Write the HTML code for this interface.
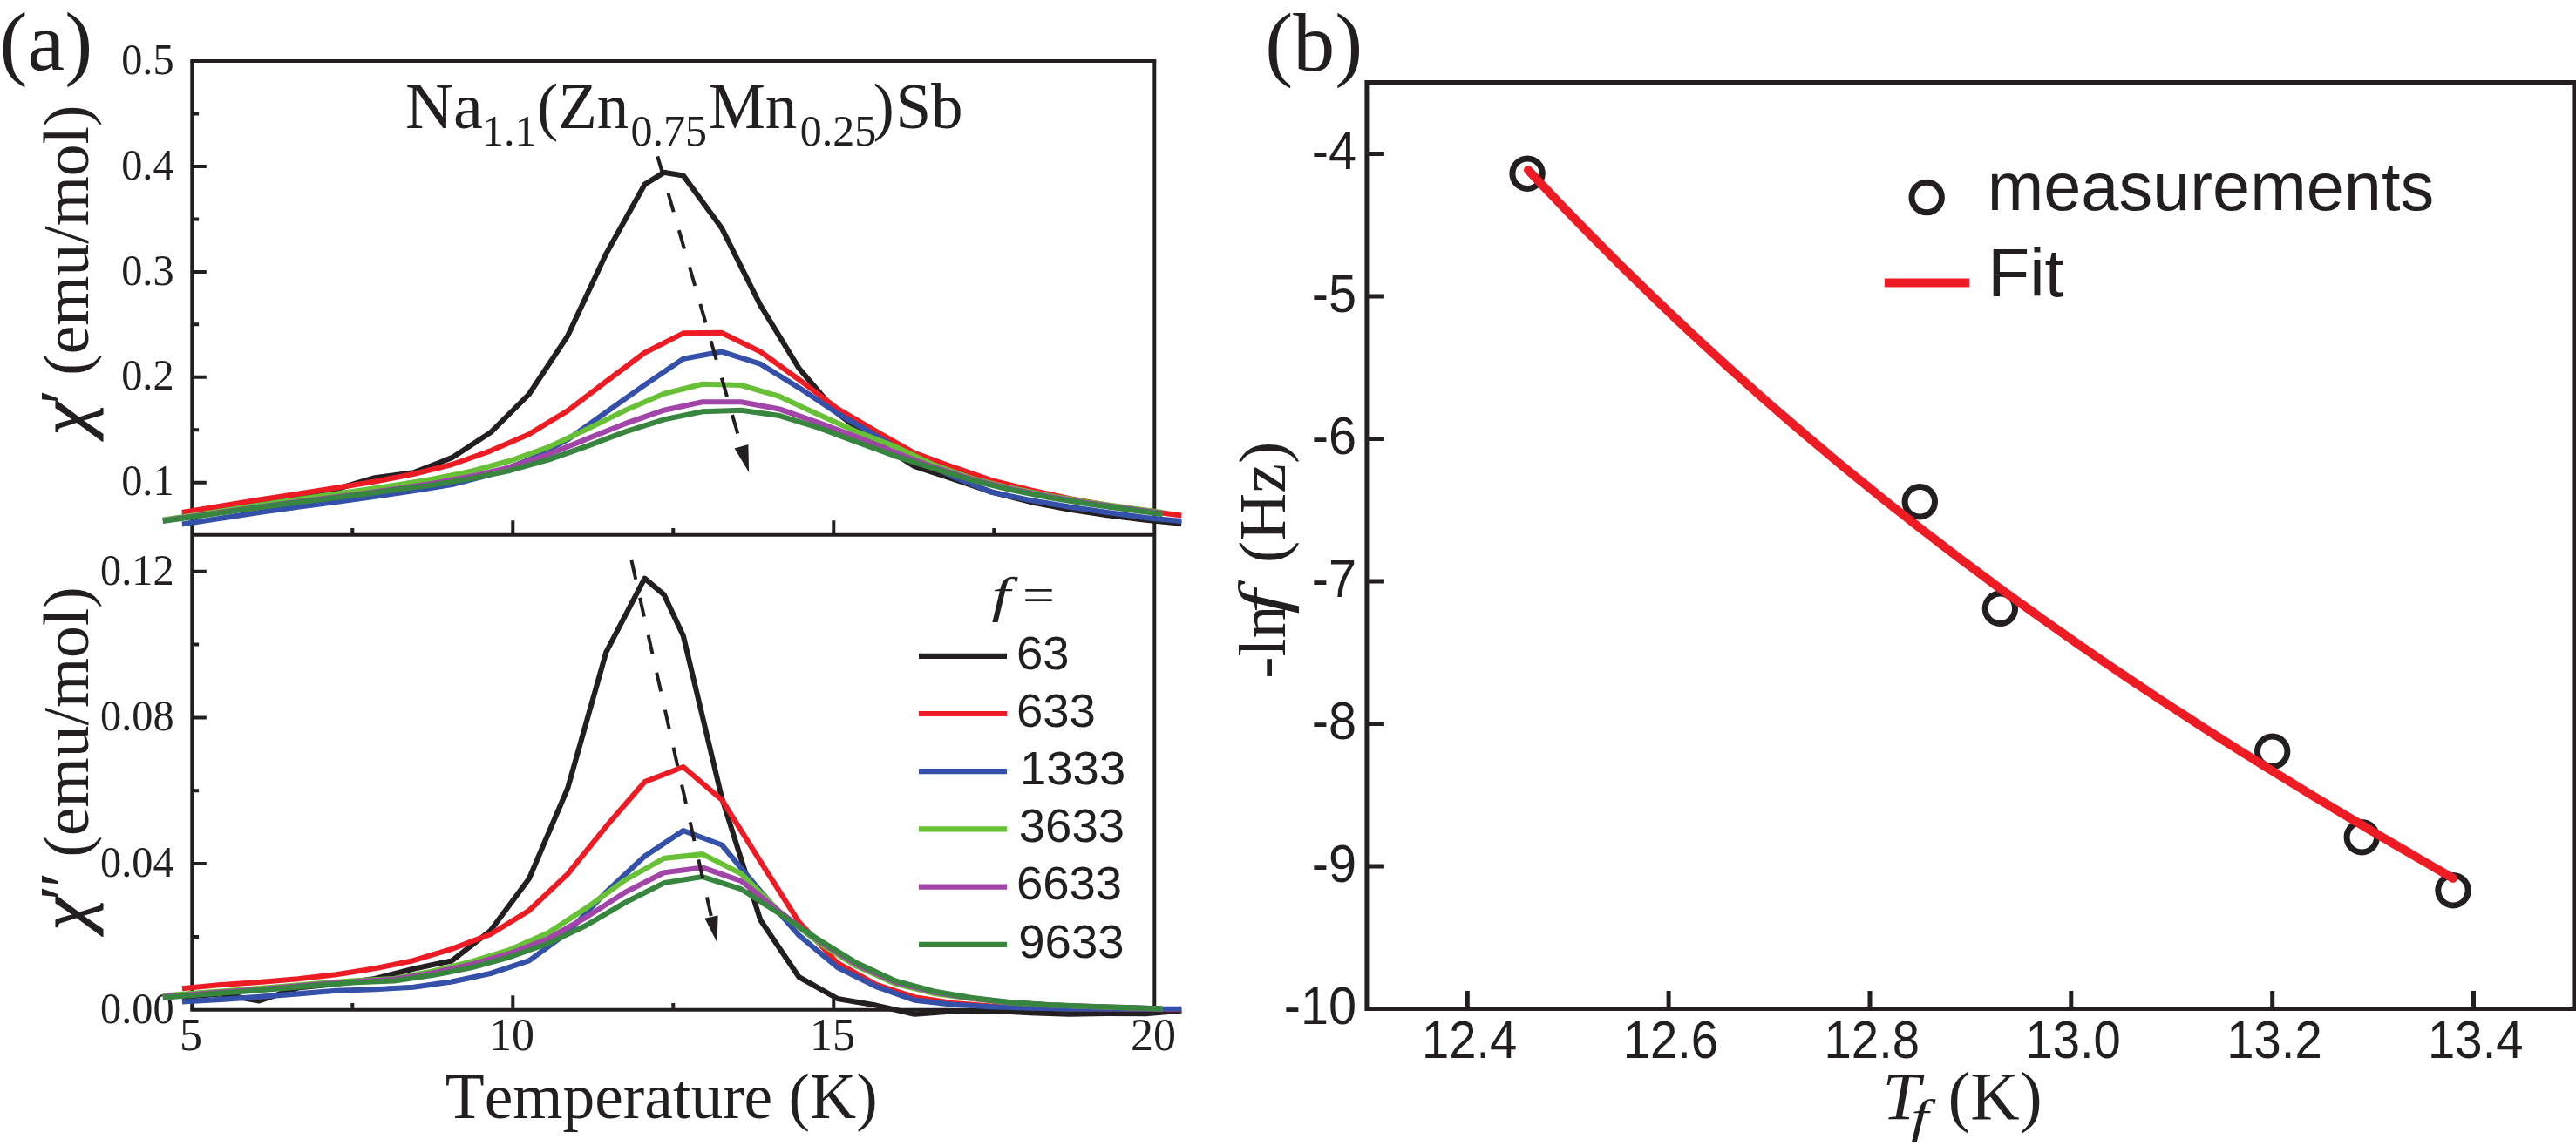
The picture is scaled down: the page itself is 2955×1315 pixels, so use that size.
<!DOCTYPE html>
<html lang="en"><head><meta charset="utf-8"><title>Figure</title>
<style>html,body{margin:0;padding:0;background:#fff}svg{display:block}text{font-kerning:none}</style></head>
<body>
<svg width="2955" height="1315" viewBox="0 0 2955 1315">
<rect width="2955" height="1315" fill="#fff"/>
<g font-family="'Liberation Serif', serif" fill="#231f20">
<g stroke="#231f20" stroke-width="4.0" fill="none" stroke-linecap="butt">
<path d="M218.3 70.0 H1326.3 M220.3 613.7 H1324.3 M218.3 1158.8 H1326.3"/>
<path d="M220.3 70.0 V1158.8 M1324.3 70.0 V1158.8"/>
<path d="M220.3 553.7h16.5 M220.3 493.2h7.8 M220.3 432.8h16.5 M220.3 372.3h7.8 M220.3 311.9h16.5 M220.3 251.4h7.8 M220.3 190.9h16.5 M220.3 130.5h7.8 M220.3 1075.0h7.8 M220.3 991.1h16.5 M220.3 907.2h7.8 M220.3 823.4h16.5 M220.3 739.5h7.8 M220.3 655.7h16.5 M404.3 613.7v-7.8 M404.3 1158.8v-7.8 M588.3 613.7v-16.5 M588.3 1158.8v-16.5 M772.3 613.7v-7.8 M772.3 1158.8v-7.8 M956.3 613.7v-16.5 M956.3 1158.8v-16.5 M1140.3 613.7v-7.8 M1140.3 1158.8v-7.8"/>
</g>
<text transform="translate(199.6 84.6) scale(0.957 1)" font-size="50.5" text-anchor="end">0.5</text>
<text transform="translate(199.6 205.5) scale(0.957 1)" font-size="50.5" text-anchor="end">0.4</text>
<text transform="translate(199.6 326.5) scale(0.957 1)" font-size="50.5" text-anchor="end">0.3</text>
<text transform="translate(199.6 447.4) scale(0.957 1)" font-size="50.5" text-anchor="end">0.2</text>
<text transform="translate(199.6 568.3) scale(0.957 1)" font-size="50.5" text-anchor="end">0.1</text>
<text transform="translate(199.6 670.7) scale(0.957 1)" font-size="50.5" text-anchor="end">0.12</text>
<text transform="translate(199.6 838.4) scale(0.957 1)" font-size="50.5" text-anchor="end">0.08</text>
<text transform="translate(199.6 1006.1) scale(0.957 1)" font-size="50.5" text-anchor="end">0.04</text>
<text transform="translate(199.6 1173.8) scale(0.957 1)" font-size="50.5" text-anchor="end">0.00</text>
<text x="219.1" y="1205.0" font-size="52.0" text-anchor="middle">5</text>
<text x="587.1" y="1205.0" font-size="52.0" text-anchor="middle">10</text>
<text x="955.1" y="1205.0" font-size="52.0" text-anchor="middle">15</text>
<text x="1323.1" y="1205.0" font-size="52.0" text-anchor="middle">20</text>
<text x="-0.4" y="80.0" font-size="96.0">(a)</text>
<text x="1451.3" y="80.8" font-size="96.0">(b)</text>
<text transform="translate(465.0 147.3) scale(1.045 1)" font-size="73.0">Na</text>
<text x="553.0" y="167.0" font-size="50.0">1.1</text>
<text x="615.9" y="147.3" font-size="73.0">(Zn</text>
<text x="723.5" y="167.0" font-size="50.0">0.75</text>
<text x="812.9" y="147.3" font-size="73.0">Mn</text>
<text x="917.7" y="167.0" font-size="50.0">0.25</text>
<text x="1001.5" y="147.3" font-size="73.0">)</text>
<text x="1027.5" y="147.3" font-size="73.0">Sb</text>
<text x="510.8" y="1282.6" font-size="73.5">Temperature (K)</text>
<text transform="translate(101.0 499.3) rotate(-90) scale(1.057 1)" font-size="80.8" font-style="italic" stroke="#231f20" stroke-width="1.1">χ</text>
<text transform="translate(101.0 1067.6) rotate(-90) scale(1.057 1)" font-size="80.8" font-style="italic" stroke="#231f20" stroke-width="1.1">χ</text>
<text transform="translate(101.0 463.9) rotate(-90)" font-size="80.0">′</text>
<text transform="translate(101.0 1033.6) rotate(-90)" font-size="80.0">″</text>
<text transform="translate(101.0 430.8) rotate(-90)" font-size="73.5">(emu/mol)</text>
<text transform="translate(101.0 983.5) rotate(-90)" font-size="73.5">(emu/mol)</text>
<text transform="translate(1137.5 701.7) scale(1.350 1)" font-size="57.0" font-style="italic">f</text>
<text transform="translate(1172.9 701.7) scale(1.150 1)" font-size="57.0">=</text>
<g font-family="'Liberation Sans', sans-serif">
<path d="M1054 752.8H1155" stroke="#231f20" stroke-width="6.2"/>
<text x="1165.9" y="767.5" font-size="54.5">63</text>
<path d="M1054 819.0H1155" stroke="#ed1c24" stroke-width="6.2"/>
<text x="1165.9" y="833.7" font-size="54.5">633</text>
<path d="M1054 885.2H1155" stroke="#3450a8" stroke-width="6.2"/>
<text x="1170.0" y="899.9" font-size="54.5">1333</text>
<path d="M1054 951.4H1155" stroke="#68c037" stroke-width="6.2"/>
<text x="1168.8" y="966.1" font-size="54.5">3633</text>
<path d="M1054 1017.6H1155" stroke="#a146a8" stroke-width="6.2"/>
<text x="1165.9" y="1032.3" font-size="54.5">6633</text>
<path d="M1054 1083.8H1155" stroke="#37853f" stroke-width="6.2"/>
<text x="1168.3" y="1098.5" font-size="54.5">9633</text>
</g>
<polyline points="208.9,590.1 253.1,582.2 297.3,575.9 341.6,570.2 385.8,561.3 430.0,548.3 474.2,542.3 518.4,525.2 562.7,496.3 606.9,452.3 651.1,385.6 695.3,291.3 739.5,211.7 761.7,197.8 783.8,201.4 828.0,261.9 872.2,350.2 916.4,422.4 960.6,474.2 1004.9,507.2 1049.1,535.1 1093.3,549.7 1137.5,564.5 1181.7,575.9 1226.0,584.6 1270.2,591.2 1314.4,596.8 1355.3,600.7" fill="none" stroke="#231f20" stroke-width="6.1" stroke-linejoin="round" stroke-linecap="butt"/>
<polyline points="208.9,588.0 253.1,580.7 297.3,573.4 341.6,566.7 385.8,559.7 430.0,552.5 474.2,544.0 518.4,533.0 562.7,517.3 606.9,498.2 651.1,471.4 695.3,437.7 739.5,404.7 783.8,382.4 828.0,381.9 872.2,403.6 916.4,435.4 960.6,469.0 1004.9,495.0 1049.1,519.8 1093.3,536.0 1137.5,551.1 1181.7,562.3 1226.0,572.0 1270.2,579.7 1314.4,585.9 1355.3,591.4" fill="none" stroke="#ed1c24" stroke-width="6.1" stroke-linejoin="round" stroke-linecap="butt"/>
<polyline points="208.9,601.4 253.1,594.8 297.3,588.0 341.6,581.8 385.8,576.0 430.0,569.7 474.2,563.3 518.4,556.0 562.7,544.5 606.9,527.7 651.1,504.4 695.3,473.0 739.5,441.7 783.8,411.8 828.0,403.6 872.2,417.7 916.4,444.8 960.6,474.2 1004.9,500.0 1049.1,525.5 1093.3,547.0 1137.5,564.8 1181.7,574.1 1226.0,581.4 1270.2,588.0 1314.4,594.1 1355.3,598.0" fill="none" stroke="#3450a8" stroke-width="6.1" stroke-linejoin="round" stroke-linecap="butt"/>
<polyline points="186.8,596.4 231.0,590.0 275.2,583.1 319.5,576.2 363.7,569.8 407.9,563.4 452.1,556.9 496.3,549.7 540.6,540.7 584.8,528.8 629.0,513.1 673.2,492.5 717.4,470.7 761.7,451.8 805.9,440.8 850.1,442.0 894.3,454.9 938.5,475.4 982.8,495.4 1027.0,512.4 1071.2,533.4 1115.4,549.2 1159.6,560.1 1203.9,569.0 1248.1,576.3 1292.3,582.4 1333.6,588.0" fill="none" stroke="#68c037" stroke-width="6.1" stroke-linejoin="round" stroke-linecap="butt"/>
<polyline points="186.8,597.4 231.0,591.2 275.2,584.7 319.5,578.8 363.7,573.1 407.9,567.4 452.1,561.3 496.3,554.8 540.6,546.6 584.8,536.1 629.0,521.3 673.2,503.7 717.4,486.0 761.7,470.7 805.9,461.3 850.1,461.3 894.3,469.5 938.5,484.8 982.8,501.3 1027.0,519.4 1071.2,536.0 1115.4,550.2 1159.6,561.1 1203.9,570.0 1248.1,577.3 1292.3,583.4 1333.6,589.0" fill="none" stroke="#a146a8" stroke-width="6.1" stroke-linejoin="round" stroke-linecap="butt"/>
<polyline points="186.8,597.9 231.0,591.7 275.2,585.2 319.5,579.3 363.7,573.8 407.9,568.2 452.1,562.3 496.3,556.4 540.6,549.1 584.8,539.9 629.0,527.5 673.2,512.0 717.4,495.4 761.7,481.3 805.9,472.3 850.1,470.7 894.3,477.1 938.5,490.7 982.8,507.2 1027.0,523.4 1071.2,537.7 1115.4,551.2 1159.6,562.1 1203.9,571.0 1248.1,578.3 1292.3,584.4 1333.6,590.0" fill="none" stroke="#37853f" stroke-width="6.1" stroke-linejoin="round" stroke-linecap="butt"/>
<polyline points="208.9,1144.3 253.1,1140.5 297.3,1148.4 341.6,1133.5 385.8,1129.0 430.0,1123.0 474.2,1111.8 518.4,1102.4 562.7,1067.8 606.9,1008.3 651.1,904.8 695.3,748.4 739.5,663.6 761.7,682.4 783.8,729.5 828.0,915.4 872.2,1055.5 916.4,1121.0 960.6,1145.9 1004.9,1153.6 1049.1,1163.8 1093.3,1160.4 1137.5,1159.6 1181.7,1162.1 1226.0,1163.8 1270.2,1163.0 1314.4,1163.3 1355.3,1159.6" fill="none" stroke="#231f20" stroke-width="6.1" stroke-linejoin="round" stroke-linecap="butt"/>
<polyline points="208.9,1134.2 253.1,1130.0 297.3,1127.0 341.6,1123.3 385.8,1118.2 430.0,1111.3 474.2,1102.2 518.4,1088.8 562.7,1072.0 606.9,1044.8 651.1,1003.0 695.3,948.3 739.5,897.2 783.8,880.0 828.0,917.7 872.2,988.4 916.4,1057.9 960.6,1105.0 1004.9,1129.7 1049.1,1144.2 1093.3,1151.0 1137.5,1154.5 1181.7,1156.0 1226.0,1157.0 1270.2,1157.5 1314.4,1158.0 1355.3,1158.2" fill="none" stroke="#ed1c24" stroke-width="6.1" stroke-linejoin="round" stroke-linecap="butt"/>
<polyline points="208.9,1149.5 253.1,1146.9 297.3,1143.9 341.6,1140.4 385.8,1136.8 430.0,1135.2 474.2,1132.7 518.4,1126.5 562.7,1117.0 606.9,1102.4 651.1,1070.0 695.3,1023.7 739.5,982.5 783.8,953.1 828.0,969.5 872.2,1022.5 916.4,1073.2 960.6,1110.0 1004.9,1132.0 1049.1,1147.6 1093.3,1152.7 1137.5,1155.3 1181.7,1156.7 1226.0,1157.5 1270.2,1157.8 1314.4,1157.8 1355.3,1157.8" fill="none" stroke="#3450a8" stroke-width="6.1" stroke-linejoin="round" stroke-linecap="butt"/>
<polyline points="186.8,1142.6 231.0,1139.1 275.2,1135.9 319.5,1132.3 363.7,1128.5 407.9,1125.2 452.1,1123.1 496.3,1114.5 540.6,1103.4 584.8,1089.8 629.0,1070.4 673.2,1041.4 717.4,1009.6 761.7,984.9 805.9,980.1 850.1,1002.5 894.3,1046.1 938.5,1081.4 982.8,1108.8 1027.0,1128.8 1071.2,1139.9 1115.4,1146.0 1159.6,1150.6 1203.9,1153.3 1248.1,1155.0 1292.3,1156.2 1333.6,1157.5" fill="none" stroke="#68c037" stroke-width="6.1" stroke-linejoin="round" stroke-linecap="butt"/>
<polyline points="186.8,1143.7 231.0,1140.2 275.2,1137.0 319.5,1133.4 363.7,1129.6 407.9,1126.3 452.1,1123.8 496.3,1116.4 540.6,1106.6 584.8,1094.0 629.0,1077.0 673.2,1052.0 717.4,1023.7 761.7,1001.3 805.9,995.5 850.1,1010.8 894.3,1046.1 938.5,1079.1 982.8,1107.0 1027.0,1127.0 1071.2,1138.6 1115.4,1145.5 1159.6,1150.4 1203.9,1153.2 1248.1,1154.9 1292.3,1156.1 1333.6,1157.5" fill="none" stroke="#a146a8" stroke-width="6.1" stroke-linejoin="round" stroke-linecap="butt"/>
<polyline points="186.8,1144.7 231.0,1141.2 275.2,1138.0 319.5,1134.4 363.7,1130.6 407.9,1127.3 452.1,1125.5 496.3,1119.1 540.6,1110.3 584.8,1098.2 629.0,1082.5 673.2,1061.4 717.4,1035.5 761.7,1013.1 805.9,1006.1 850.1,1020.2 894.3,1048.5 938.5,1077.9 982.8,1105.0 1027.0,1125.4 1071.2,1137.4 1115.4,1145.0 1159.6,1150.2 1203.9,1153.1 1248.1,1154.8 1292.3,1156.1 1333.6,1157.5" fill="none" stroke="#37853f" stroke-width="6.1" stroke-linejoin="round" stroke-linecap="butt"/>
<path d="M754.3 179.4L851.4 515.3" stroke="#231f20" stroke-width="4.0" stroke-dasharray="22.4 21.7" fill="none"/>
<path d="M859.1 542.1L842.6 514.6L858.4 510.0Z" fill="#231f20"/>
<path d="M724.4 642.9L816.7 1055.1" stroke="#231f20" stroke-width="4.0" stroke-dasharray="22.2 21.8" fill="none"/>
<path d="M822.6 1081.4L808.5 1053.8L823.6 1050.4Z" fill="#231f20"/>
<g stroke="#231f20" stroke-width="5.0" fill="none">
<path d="M1567.9 94.5H2952.9V1157.4H1567.9Z"/>
<path d="M1567.9 993.9h20 M1567.9 830.4h20 M1567.9 667.0h20 M1567.9 503.5h20 M1567.9 340.0h20 M1567.9 176.5h20 M1683.3 1157.4v-20.5 M1914.1 1157.4v-20.5 M2145.0 1157.4v-20.5 M2375.8 1157.4v-20.5 M2606.7 1157.4v-20.5 M2837.5 1157.4v-20.5"/>
</g>
<circle cx="1752.1" cy="199.2" r="17.2" fill="none" stroke="#231f20" stroke-width="7"/>
<circle cx="2202.3" cy="575.7" r="17.2" fill="none" stroke="#231f20" stroke-width="7"/>
<circle cx="2294.4" cy="698.3" r="17.2" fill="none" stroke="#231f20" stroke-width="7"/>
<circle cx="2606.7" cy="862.3" r="17.2" fill="none" stroke="#231f20" stroke-width="7"/>
<circle cx="2709.3" cy="960.7" r="17.2" fill="none" stroke="#231f20" stroke-width="7"/>
<circle cx="2814.0" cy="1021.7" r="17.2" fill="none" stroke="#231f20" stroke-width="7"/>
<circle cx="2210.2" cy="226.5" r="17.2" fill="none" stroke="#231f20" stroke-width="7"/>
<polyline points="1753.0,195.1 1766.4,209.4 1779.9,223.6 1793.3,237.6 1806.7,251.5 1820.2,265.2 1833.6,278.8 1847.0,292.3 1860.4,305.7 1873.9,318.9 1887.3,332.0 1900.7,344.9 1914.2,357.8 1927.6,370.5 1941.0,383.1 1954.5,395.6 1967.9,407.9 1981.3,420.2 1994.7,432.3 2008.2,444.3 2021.6,456.2 2035.0,467.9 2048.5,479.6 2061.9,491.1 2075.3,502.6 2088.8,513.9 2102.2,525.2 2115.6,536.3 2129.1,547.3 2142.5,558.2 2155.9,569.1 2169.3,579.8 2182.8,590.4 2196.2,601.0 2209.6,611.4 2223.1,621.8 2236.5,632.0 2249.9,642.2 2263.4,652.3 2276.8,662.3 2290.2,672.2 2303.6,682.0 2317.1,691.7 2330.5,701.4 2343.9,711.0 2357.4,720.5 2370.8,729.9 2384.2,739.3 2397.7,748.6 2411.1,757.8 2424.5,766.9 2437.9,776.0 2451.4,785.0 2464.8,793.9 2478.2,802.8 2491.7,811.6 2505.1,820.3 2518.5,829.0 2532.0,837.7 2545.4,846.2 2558.8,854.7 2572.3,863.2 2585.7,871.6 2599.1,880.0 2612.5,888.3 2626.0,896.5 2639.4,904.7 2652.8,912.9 2666.3,921.0 2679.7,929.1 2693.1,937.1 2706.6,945.1 2720.0,953.1 2733.4,961.0 2746.8,968.9 2760.3,976.7 2773.7,984.5 2787.1,992.3 2800.6,1000.1 2814.0,1007.8" fill="none" stroke="#ed1c24" stroke-width="10" stroke-linecap="round"/>
<path d="M2161.8 324.5H2259.1" stroke="#ed1c24" stroke-width="10.2"/>
<g font-family="'Liberation Sans', sans-serif">
<text transform="translate(1556.0 1175.0) scale(0.945 1)" font-size="61.0" text-anchor="end">-10</text>
<text transform="translate(1556.0 1011.5) scale(0.945 1)" font-size="61.0" text-anchor="end">-9</text>
<text transform="translate(1556.0 848.0) scale(0.945 1)" font-size="61.0" text-anchor="end">-8</text>
<text transform="translate(1556.0 684.6) scale(0.945 1)" font-size="61.0" text-anchor="end">-7</text>
<text transform="translate(1556.0 521.1) scale(0.945 1)" font-size="61.0" text-anchor="end">-6</text>
<text transform="translate(1556.0 357.6) scale(0.945 1)" font-size="61.0" text-anchor="end">-5</text>
<text transform="translate(1556.0 194.1) scale(0.945 1)" font-size="61.0" text-anchor="end">-4</text>
<text transform="translate(1685.6 1213.7) scale(0.922 1)" font-size="61.0" text-anchor="middle">12.4</text>
<text transform="translate(1916.4 1213.7) scale(0.922 1)" font-size="61.0" text-anchor="middle">12.6</text>
<text transform="translate(2147.3 1213.7) scale(0.922 1)" font-size="61.0" text-anchor="middle">12.8</text>
<text transform="translate(2378.1 1213.7) scale(0.922 1)" font-size="61.0" text-anchor="middle">13.0</text>
<text transform="translate(2609.0 1213.7) scale(0.922 1)" font-size="61.0" text-anchor="middle">13.2</text>
<text transform="translate(2839.8 1213.7) scale(0.922 1)" font-size="61.0" text-anchor="middle">13.4</text>
<text x="2279.7" y="240.5" font-size="77.5">measurements</text>
<text x="2280.2" y="339.6" font-size="78.5">Fit</text>
</g>
<text transform="translate(1473.5 778.8) rotate(-90)" font-size="76.0">-ln</text>
<text transform="translate(1473.5 704.6) rotate(-90) scale(1.300 1)" font-size="76.0" font-style="italic">f</text>
<text transform="translate(1473.5 646.0) rotate(-90)" font-size="76.0">(Hz)</text>
<text x="2159.4" y="1284.0" font-size="78.0" font-style="italic">T</text>
<text transform="translate(2192.2 1298.7) scale(1.350 1)" font-size="53.5" font-style="italic">f</text>
<text x="2234.4" y="1284.0" font-size="78.0">(K)</text>
</g></svg>
</body></html>
